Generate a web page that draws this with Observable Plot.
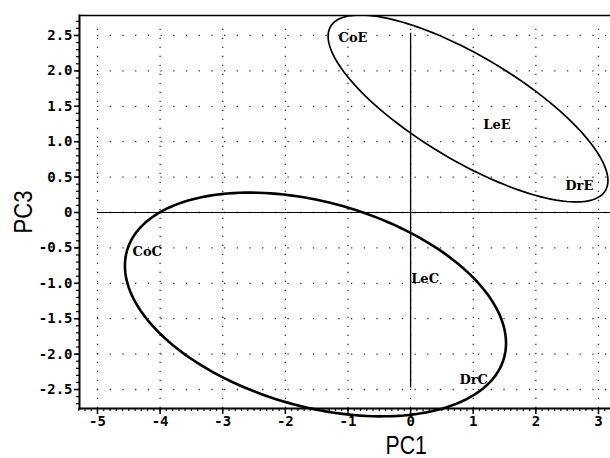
<!DOCTYPE html>
<html>
<head>
<meta charset="utf-8">
<script src="https://cdn.jsdelivr.net/npm/d3@7"></script>
<script src="https://cdn.jsdelivr.net/npm/@observablehq/plot@0.6"></script>
<style>
  html, body { margin: 0; padding: 0; background: white; }
  #chart svg { display: block; }
</style>
</head>
<body>
<div id="chart"></div>
<script>
// ---- data ----
const xTicks = [-5, -4, -3, -2, -1, 0, 1, 2, 3];
const yTicks = [-2.5, -2.0, -1.5, -1.0, -0.5, 0, 0.5, 1.0, 1.5, 2.0, 2.5];
const xDomain = [-5.287, 3.192];
const yDomain = [-2.768, 2.782];

// group labels (PC1, PC3 scores)
const labelNames = ["CoE", "LeE", "DrE", "CoC", "LeC", "DrC"];
const labelPC1   = [-1.15, 1.16, 2.47, -4.44, 0.01, 0.78];
const labelPC3   = [2.47, 1.24, 0.37, -0.56, -0.93, -2.36];

// confidence ellipses: centre and conjugate semi-axis vectors (data units)
const ellipseNames  = ["E", "C"];
const ellipseCx     = [0.917, -1.519];
const ellipseCy     = [1.469, -1.299];
const ellipseMajorX = [2.193, 3.010];
const ellipseMajorY = [-1.160, -0.758];
const ellipseMinorX = [-0.426, -0.446];
const ellipseMinorY = [-0.630, -1.386];
const ellipseWidth  = [1.7, 2.6];

// reference cross lines
const crossH = {y: 0, x1: -5, x2: 3.192};
const crossV = {x: 0, y1: -2.48, y2: 2.53};

// ---- build tables ----
const labels = labelNames.map((n, i) => ({name: n, x: labelPC1[i], y: labelPC3[i]}));
const ellipsePts = [];
ellipseNames.forEach((g, i) => {
  for (let k = 0; k <= 180; k++) {
    const t = (k / 180) * 2 * Math.PI;
    ellipsePts.push({
      g,
      x: ellipseCx[i] + Math.cos(t) * ellipseMajorX[i] + Math.sin(t) * ellipseMinorX[i],
      y: ellipseCy[i] + Math.cos(t) * ellipseMajorY[i] + Math.sin(t) * ellipseMinorY[i]
    });
  }
});
const xMinor = d3.range(-53, 32).map(d => d / 10);
const yMinor = d3.range(-27, 28).map(d => d / 10);
const fmtY = d => d === 0 ? "0" : d.toFixed(1);
const fmtX = d => String(d);
const titleFont = "Liberation Sans, Arial, sans-serif";

const chart = Plot.plot({
  width: 610,
  height: 458,
  marginLeft: 79,
  marginRight: 0,
  marginTop: 15,
  marginBottom: 50,
  x: {domain: xDomain},
  y: {domain: yDomain},
  style: {fontFamily: "DejaVu Sans Mono", fontWeight: "bold", fontSize: "14px", color: "black", background: "white"},
  marks: [
    // dotted grid
    Plot.ruleY(yTicks, {x1: xTicks[0], x2: xDomain[1], stroke: "#333", strokeWidth: 1.3, strokeDasharray: "1.3,11.4"}),
    Plot.ruleX(xTicks, {y1: yDomain[0], y2: yDomain[1] - 0.1, stroke: "#333", strokeWidth: 1.3, strokeDasharray: "1.3,7.7"}),
    // frame lines
    Plot.frame({anchor: "left", strokeWidth: 2}),
    Plot.frame({anchor: "bottom", strokeWidth: 2}),
    Plot.frame({anchor: "top", strokeWidth: 1.3}),
    // minor ticks
    Plot.axisX(xMinor, {tickSize: 3, tickFormat: () => "", label: null, strokeWidth: 1.2}),
    Plot.axisY(yMinor, {tickSize: 3, tickFormat: () => "", label: null, strokeWidth: 1.2}),
    // major ticks + labels
    Plot.axisX(xTicks, {tickSize: 6, tickPadding: 2, tickFormat: fmtX, label: null, strokeWidth: 1.5}),
    Plot.axisY(yTicks, {tickSize: 5, tickPadding: 2, tickFormat: fmtY, label: null, strokeWidth: 1.5}),
    // cross lines
    Plot.ruleY([crossH.y], {x1: crossH.x1, x2: crossH.x2, stroke: "black", strokeWidth: 1.2}),
    Plot.ruleX([crossV.x], {y1: crossV.y1, y2: crossV.y2, stroke: "black", strokeWidth: 1.3}),
    // ellipses
    Plot.line(ellipsePts.filter(d => d.g === "E"), {x: "x", y: "y", stroke: "black", strokeWidth: ellipseWidth[0], clip: true}),
    Plot.line(ellipsePts.filter(d => d.g === "C"), {x: "x", y: "y", stroke: "black", strokeWidth: ellipseWidth[1]}),
    // group labels
    Plot.text(labels, {x: "x", y: "y", text: "name", textAnchor: "start", fontFamily: "DejaVu Serif", fontWeight: "bold", fontSize: 13, fill: "black"}),
    // axis titles
    Plot.text(["PC1"], {x: -0.07, y: yDomain[0], dy: 37, text: d => d, fontFamily: titleFont, fontWeight: "normal", fontSize: 25, fill: "black"}),
    Plot.text(["PC3"], {frameAnchor: "left", dx: -56, rotate: -90, textAnchor: "middle", text: d => d, fontFamily: titleFont, fontWeight: "normal", fontSize: 26, fill: "black"})
  ]
});

// narrow the axis titles horizontally (the reference uses a condensed face)
d3.select(chart).selectAll("text").filter(function () {
  return this.textContent === "PC1" || this.textContent === "PC3";
}).each(function () {
  const el = d3.select(this);
  const tr = el.attr("transform");
  if (tr && tr.includes("rotate")) {
    el.attr("transform", tr + " scale(0.85,1)");
  } else {
    const x = +el.attr("x") || 0, y = +el.attr("y") || 0;
    el.attr("transform", `${tr ? tr + " " : ""}translate(${x},${y}) scale(0.85,1) translate(${-x},${-y})`);
  }
});
document.getElementById("chart").appendChild(chart);
</script>
</body>
</html>
